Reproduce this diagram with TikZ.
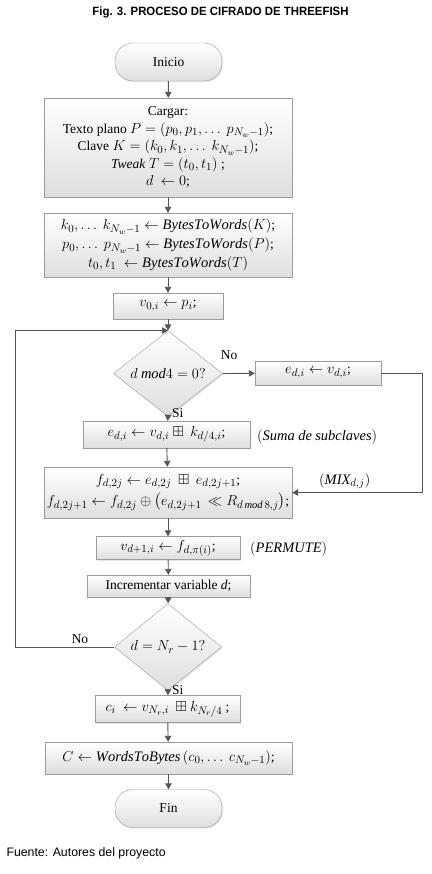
\documentclass[tikz,border=0pt]{standalone}
\usepackage{amsmath,amssymb}
\usepackage{fontspec}
\setmainfont{Liberation Serif}
\newfontfamily\sansfnt{Liberation Sans}
\DeclareMathSizes{13.5}{14.5}{10.5}{8}
\usetikzlibrary{arrows.meta,shapes.geometric,shadows}

\definecolor{boxline}{RGB}{155,155,155}
\definecolor{boxfill}{RGB}{222,222,222}
\definecolor{conline}{RGB}{85,85,85}

\begin{document}
\begin{tikzpicture}[x=1pt,y=-1pt,>={Triangle[length=6pt,width=6.5pt]},
    font=\fontsize{13.5}{17.5}\selectfont,
    proc/.style={draw=boxline,top color=white,bottom color=boxfill,
      drop shadow={opacity=0.2,shadow xshift=1pt,shadow yshift=-1.2pt},
      align=center,inner sep=1pt},
    term/.style={proc,rounded corners=18pt,minimum width=107pt,minimum height=38pt},
    dec/.style={proc,diamond,inner sep=0pt},
    lab/.style={inner sep=1pt},
    conn/.style={->,draw=conline,line width=0.9pt}]
  \useasboundingbox (0,0) rectangle (431,874);

  % title and source
  \node[font=\sansfnt\bfseries\fontsize{12}{14}\selectfont] (title) at (220.5,12)
    {\scalebox{0.95}[1]{Fig. 3. PROCESO DE CIFRADO DE THREEFISH}};
  \node[font=\sansfnt\fontsize{12.3}{14}\selectfont,anchor=west] (fuente) at (3,853)
    {Fuente: Autores del proyecto};

  % main column
  \node[term] (ini) at (168.5,62) {Inicio};
  \node[proc,minimum width=248pt,minimum height=99pt] (carga) at (168,147.5)
    {Cargar:\\
     Texto plano $P=\left(p_0,p_1,\ldots\ p_{N_w-1}\right)$;\\
     Clave $K=\left(k_0,k_1,\ldots\ k_{N_w-1}\right)$;\\
     \textit{Tweak} $T=(t_0,t_1)$ ;\\
     $d\ \leftarrow 0$;};
  \node[proc,minimum width=248pt,minimum height=64pt] (words) at (168,245)
    {$k_0,\ldots\ k_{N_w-1}\leftarrow \mathit{BytesToWords}(K)$;\\[1.5pt]
     $p_0,\ldots\ p_{N_w-1}\leftarrow \mathit{BytesToWords}(P)$;\\[1pt]
     $t_0,t_1\ \leftarrow \mathit{BytesToWords}(T)$};
  \node[proc,minimum width=110pt,minimum height=26pt] (vini) at (168,306)
    {$v_{0,i}\leftarrow p_i$;};
  \node[dec,minimum width=109pt,minimum height=63pt] (dmod) at (168,373.5)
    {$d\ \mathit{mod}4=0?$};
  \node[proc,minimum width=126pt,minimum height=24pt] (ecopy) at (318,373)
    {$e_{d,i}\leftarrow v_{d,i}$;};
  \node[proc,minimum width=167pt,minimum height=27pt] (suma) at (166.5,434.5)
    {$e_{d,i}\leftarrow v_{d,i}\boxplus\ k_{d/4,i}$;};
  \node[proc,minimum width=248pt,minimum height=51pt] (mix) at (168,492.5)
    {$f_{d,2j}\leftarrow e_{d,2j}\ \boxplus\ e_{d,2j+1}$;\\[4pt]
     $f_{d,2j+1}\leftarrow f_{d,2j}\oplus\bigl(e_{d,2j+1}\,\ll R_{d\,\mathit{mod}\,8,j}\bigr)$;};
  \node[proc,minimum width=144pt,minimum height=23pt] (perm) at (168,548)
    {$v_{d+1,i}\leftarrow f_{d,\pi(i)}$;};
  \node[proc,minimum width=163pt,minimum height=22pt] (incr) at (168.5,586)
    {Incrementar variable \textit{d};};
  \node[dec,minimum width=107pt,minimum height=62pt] (dfin) at (168,647)
    {$d=N_r-1?$};
  \node[proc,minimum width=145pt,minimum height=27pt] (cout) at (167.5,709)
    {$c_i\ \leftarrow v_{N_r,i}\ \boxplus k_{N_r/4}$ ;};
  \node[proc,minimum width=247pt,minimum height=32pt] (wout) at (168.5,758)
    {$C\leftarrow \mathit{WordsToBytes}\left(c_0,\ldots\ c_{N_w-1}\right)$;};
  \node[term] (fin) at (168.5,808.5) {Fin};

  % side notes
  \node[lab,anchor=west] (nsuma) at (256,437) {$(\mathit{Suma\ de\ subclaves})$};
  \node[lab,anchor=west] (nmix) at (318,481) {$(\mathit{MIX}_{d,j})$};
  \node[lab,anchor=west] (nperm) at (249,549) {$(\mathit{PERMUTE})$};

  % branch labels
  \node[lab] (no1) at (229,355) {No};
  \node[lab,anchor=west] (si1) at (171,413) {Si};
  \node[lab] (no2) at (80,639) {No};
  \node[lab,anchor=west] (si2) at (171,690) {Si};

  % corners of the loops
  \coordinate (lft) at (15,647);
  \coordinate (rgt) at (422,373);

  % connectors
  \draw[conn] (ini) -- (carga);
  \draw[conn] (carga) -- (words);
  \draw[conn] (words) -- (vini);
  \draw[conn] (vini) -- (dmod.north);
  \draw[conn] (dmod.east) -- (ecopy);
  \draw[conn] (dmod.south) -- (suma);
  \draw[conn] (ecopy.east) -- (rgt) |- (mix.east);
  \draw[conn] (suma) -- (mix);
  \draw[conn] (mix) -- (perm);
  \draw[conn] (perm) -- (incr);
  \draw[conn] (incr) -- (dfin.north);
  \draw[conn] (dfin.west) -- (lft) |- (dmod.north);
  \draw[conn] (dfin.south) -- (cout);
  \draw[conn] (cout) -- (wout);
  \draw[conn] (wout) -- (fin);
\end{tikzpicture}
\end{document}
